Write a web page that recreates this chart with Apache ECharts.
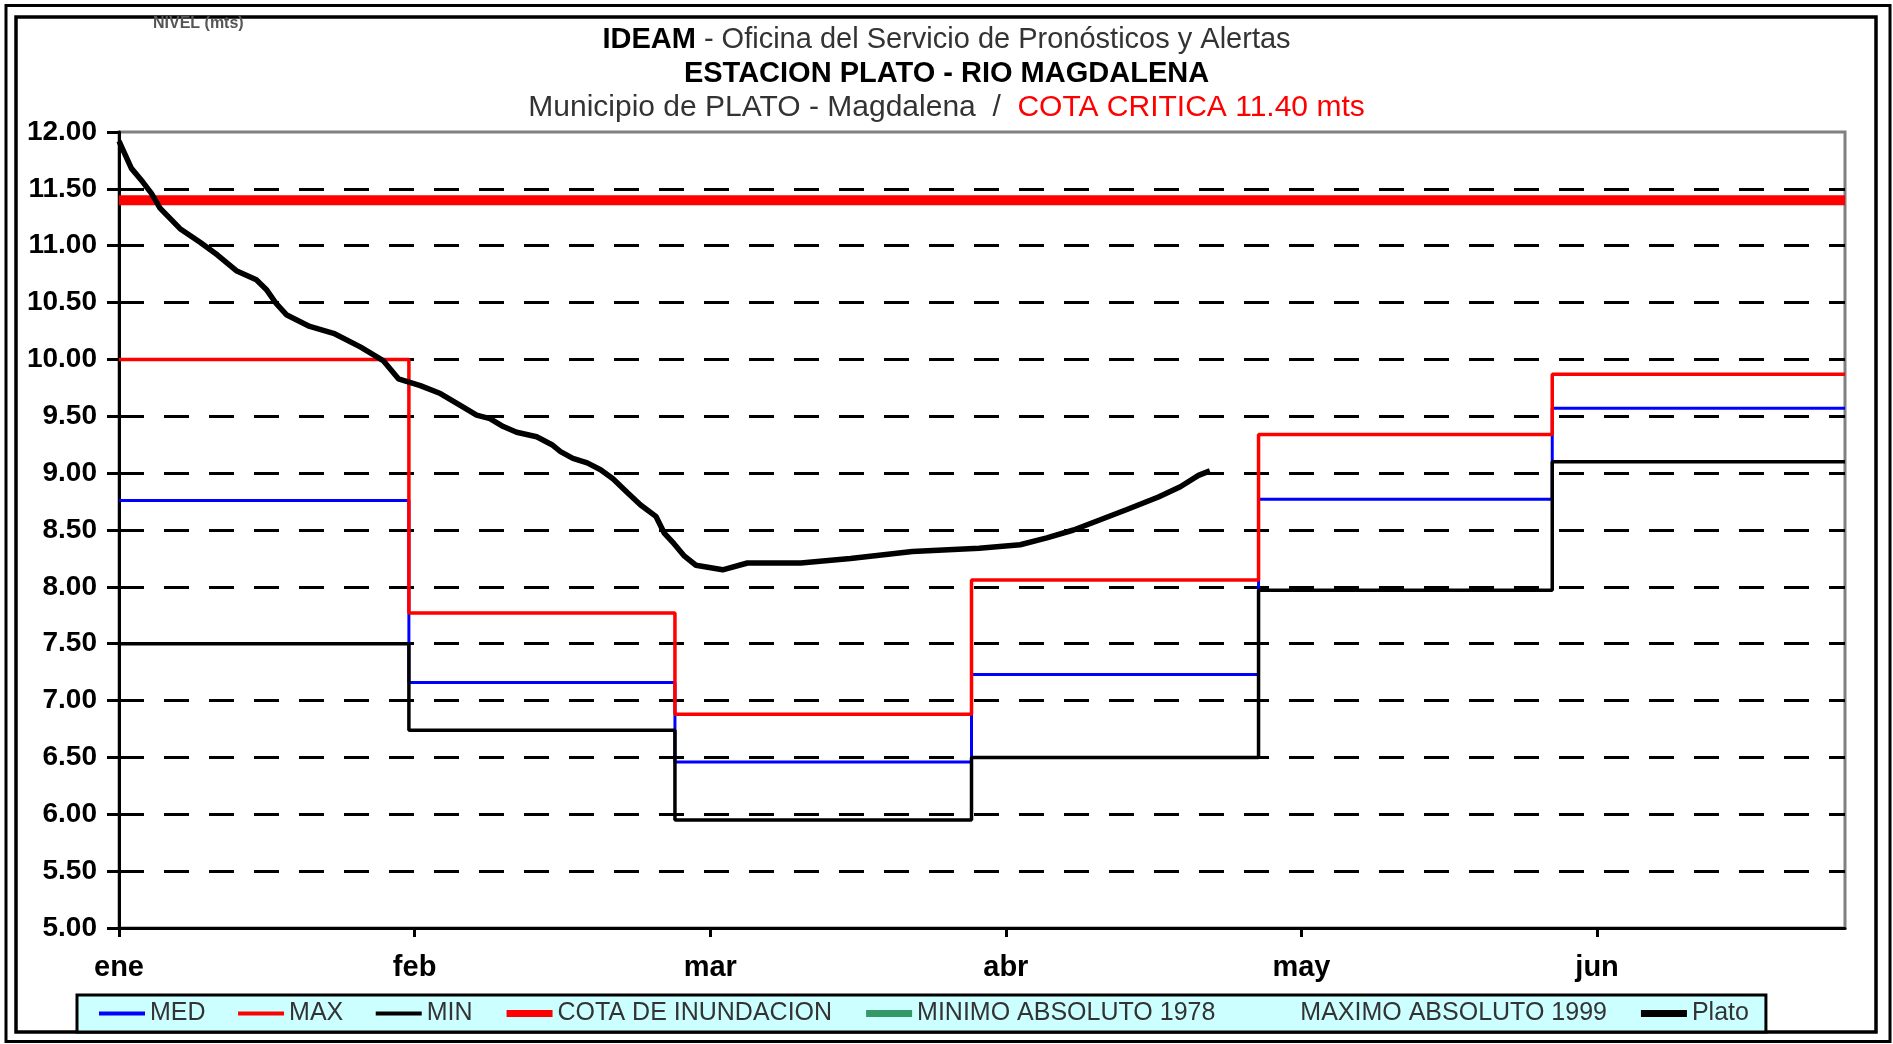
<!DOCTYPE html>
<html>
<head>
<meta charset="utf-8">
<title>IDEAM - Estacion Plato</title>
<script src="https://cdn.jsdelivr.net/npm/echarts@6/dist/echarts.min.js"></script>
<style>
  html, body { margin: 0; padding: 0; background: #fff; }
  #chart { width: 1893px; height: 1044px; }
</style>
</head>
<body>
<div id="chart"></div>
<script>
// eje X: dias desde el 1 de enero
var monthLabels = ['ene', 'feb', 'mar', 'abr', 'may', 'jun'];
var monthTickDays = [0, 31, 62, 93, 124, 155];

// curvas mensuales (escalones)
var stepDays = [0, 30.4, 58.3, 89.4, 119.5, 150.3, 181];
var medValues = [8.76, 7.16, 6.46, 7.23, 8.77, 9.57, 9.57];
var maxValues = [10.00, 7.77, 6.88, 8.06, 9.34, 9.87, 9.87];
var minValues = [7.50, 6.74, 5.95, 6.50, 7.97, 9.10, 9.10];

// cota de inundacion
var cotaDays = [0, 181];
var cotaValues = [11.40, 11.40];

// nivel observado Plato
var platoDays = [0, 1.3, 2.5, 3.4, 4.3, 6.4, 8.5, 10.3, 12.3, 14.4, 15.5, 16.5, 17.6, 20.0, 22.5,
  25.3, 27.7, 29.3, 31.6, 33.7, 36.1, 37.5, 38.9, 40.3, 41.7, 43.8, 45.4, 46.3, 47.6, 49.1,
  50.5, 51.8, 53.3, 54.7, 56.3, 57.2, 58.2, 59.3, 60.5, 63.3, 65.9, 71.5, 76.7, 83.2, 90.2,
  94.5, 97.3, 100.1, 102.9, 105.7, 109.0, 111.3, 113.2, 114.4];
var platoValues = [11.92, 11.68, 11.56, 11.46, 11.33, 11.15, 11.03, 10.92, 10.78, 10.70, 10.61, 10.49, 10.39, 10.29, 10.23,
  10.11, 9.99, 9.83, 9.77, 9.70, 9.58, 9.51, 9.48, 9.41, 9.36, 9.32, 9.25, 9.19, 9.13, 9.09,
  9.03, 8.95, 8.83, 8.72, 8.62, 8.47, 8.38, 8.27, 8.19, 8.15, 8.21, 8.21, 8.25, 8.31, 8.34,
  8.37, 8.43, 8.50, 8.59, 8.68, 8.79, 8.88, 8.98, 9.02];

var ff = 'Liberation Sans, Arial, sans-serif';

function zip(xs, ys) {
  var out = [];
  for (var i = 0; i < xs.length; i++) out.push([xs[i], ys[i]]);
  return out;
}

var chart = echarts.init(document.getElementById('chart'));

var option = {
  animation: false,
  backgroundColor: '#fff',
  title: [
    {
      text: 'NIVEL (mts)', left: 153, top: 16, padding: 0,
      textStyle: { fontFamily: ff, fontSize: 16, fontWeight: 'bold', color: '#555' }
    },
    {
      text: '{b|IDEAM}{n| - Oficina del Servicio de Pronósticos y Alertas}',
      left: 'center', top: 22.5, padding: 0,
      textStyle: {
        rich: {
          b: { fontFamily: ff, fontSize: 29, fontWeight: 'bold', color: '#000', lineHeight: 34 },
          n: { fontFamily: ff, fontSize: 29, fontWeight: 'normal', color: '#333', lineHeight: 34 }
        }
      }
    },
    {
      text: 'ESTACION PLATO - RIO MAGDALENA',
      left: 'center', top: 56.5, padding: 0,
      textStyle: { fontFamily: ff, fontSize: 29, fontWeight: 'bold', color: '#000', lineHeight: 34 }
    },
    {
      text: '{n|Municipio de PLATO - Magdalena  /  }{r|COTA CRITICA 11.40 mts}',
      left: 'center', top: 91, padding: 0,
      textStyle: {
        rich: {
          n: { fontFamily: ff, fontSize: 30, fontWeight: 'normal', color: '#333', lineHeight: 34 },
          r: { fontFamily: ff, fontSize: 30, fontWeight: 'normal', color: '#ff0000', lineHeight: 34 }
        }
      }
    }
  ],
  legend: {
    left: 77, top: 995,
    padding: [6, 17, 6, 20],
    itemWidth: 46, itemHeight: 14, itemGap: 30.5,
    backgroundColor: '#ccffff', borderColor: '#000', borderWidth: 3, borderRadius: 0,
    selectedMode: false,
    itemStyle: { opacity: 0 },
    textStyle: { fontFamily: ff, fontSize: 25, color: '#333', lineHeight: 25 },
    data: [
      { name: 'MED', lineStyle: { width: 4 } },
      { name: 'MAX', lineStyle: { width: 4 } },
      { name: 'MIN', lineStyle: { width: 4 } },
      { name: 'COTA DE INUNDACION', lineStyle: { width: 7 } },
      { name: 'MINIMO ABSOLUTO 1978', lineStyle: { width: 7 } },
      { name: 'MAXIMO ABSOLUTO 1999', lineStyle: { width: 7 } },
      { name: 'Plato', lineStyle: { width: 7 } }
    ]
  },
  grid: {
    left: 119, right: 48, top: 132, bottom: 116,
    show: true, borderColor: '#808080', borderWidth: 3
  },
  xAxis: {
    type: 'value', min: 0, max: 181,
    axisLine: { show: true, onZero: false, lineStyle: { color: '#000', width: 3 } },
    axisTick: { show: true, length: 9, customValues: monthTickDays, lineStyle: { color: '#000', width: 3 } },
    axisLabel: {
      customValues: monthTickDays, margin: 25,
      fontFamily: ff, fontSize: 29, fontWeight: 'bold', color: '#000',
      formatter: function (v) {
        var i = monthTickDays.indexOf(v);
        return i >= 0 ? monthLabels[i] : '';
      }
    },
    splitLine: { show: false }
  },
  yAxis: {
    type: 'value', min: 5, max: 12, interval: 0.5,
    axisLine: { show: true, lineStyle: { color: '#000', width: 3 } },
    axisTick: { show: true, length: 12, lineStyle: { color: '#000', width: 3 } },
    axisLabel: {
      margin: 22, fontFamily: ff, fontSize: 28, fontWeight: 'bold', color: '#000',
      formatter: function (v) { return v.toFixed(2); }
    },
    splitLine: {
      show: true, showMinLine: false, showMaxLine: false,
      lineStyle: { color: '#000', width: 3, type: [25, 20] }
    }
  },
  series: [
    {
      name: 'MED', type: 'line', step: 'end', symbol: 'none',
      data: zip(stepDays, medValues),
      itemStyle: { color: '#0000ff' }, lineStyle: { color: '#0000ff', width: 3 }
    },
    {
      name: 'MAX', type: 'line', step: 'end', symbol: 'none',
      data: zip(stepDays, maxValues),
      itemStyle: { color: '#ff0000' }, lineStyle: { color: '#ff0000', width: 3.5 }
    },
    {
      name: 'MIN', type: 'line', step: 'end', symbol: 'none',
      data: zip(stepDays, minValues),
      itemStyle: { color: '#000' }, lineStyle: { color: '#000', width: 3.5 }
    },
    {
      name: 'COTA DE INUNDACION', type: 'line', symbol: 'none',
      data: zip(cotaDays, cotaValues),
      itemStyle: { color: '#ff0000' }, lineStyle: { color: '#ff0000', width: 10 }
    },
    {
      name: 'MINIMO ABSOLUTO 1978', type: 'line', symbol: 'none', data: [],
      itemStyle: { color: '#339966' }, lineStyle: { color: '#339966', width: 7 }
    },
    {
      name: 'MAXIMO ABSOLUTO 1999', type: 'line', symbol: 'none', data: [],
      itemStyle: { color: 'rgba(0,0,0,0)' }, lineStyle: { color: 'rgba(0,0,0,0)', width: 7 }
    },
    {
      name: 'Plato', type: 'line', symbol: 'none',
      data: zip(platoDays, platoValues),
      itemStyle: { color: '#000' }, lineStyle: { color: '#000', width: 5.5 }
    }
  ],
  graphic: [
    {
      type: 'rect', silent: true,
      shape: { x: 6, y: 5.5, width: 1884, height: 1036 },
      style: { fill: 'none', stroke: '#000', lineWidth: 3 }
    },
    {
      type: 'rect', silent: true,
      shape: { x: 16, y: 17, width: 1860, height: 1015 },
      style: { fill: 'none', stroke: '#000', lineWidth: 3.5 }
    }
  ]
};

chart.setOption(option);
</script>
</body>
</html>
